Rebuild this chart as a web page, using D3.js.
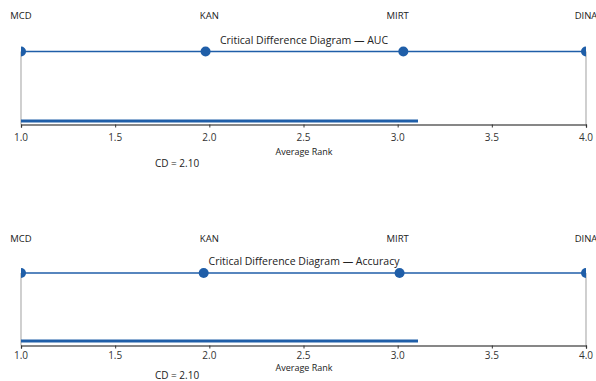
<!DOCTYPE html>
<html>
<head>
<meta charset="utf-8">
<script src="https://cdn.jsdelivr.net/npm/d3@7"></script>
<style>
  html, body { margin: 0; padding: 0; background: #fff; }
  svg { display: block; }
  text { font-family: "Open Sans", "Noto Sans", sans-serif; }
</style>
</head>
<body>
<script>
// Models in rank order and their average ranks per metric
const models = ["MCD", "KAN", "MIRT", "DINA"];
const labelSlots = [1, 2, 3, 4];
const aucRanks = [1.0, 1.98, 3.03, 4.0];
const accuracyRanks = [1.0, 1.97, 3.01, 4.0];
const criticalDifference = 2.10;
const rankTicks = [1.0, 1.5, 2.0, 2.5, 3.0, 3.5, 4.0];

const W = 596, H = 381;
const blue = "#1f5ea8";

const svg = d3.select("body").append("svg")
  .attr("width", W).attr("height", H);

const x = d3.scaleLinear().domain([1, 4]).range([21, 586]);

svg.append("defs").append("clipPath").attr("id", "plotClip")
  .append("rect").attr("x", x(1)).attr("y", 0)
  .attr("width", x(4) - x(1)).attr("height", H);

const panels = [
  { title: "Critical Difference Diagram \u2014 AUC", ranks: aucRanks,
    top: 0, labelY: 19, titleY: 44, lineY: 51.5, cdY: 121, axisY: 124.5,
    tickY: 141, xlabY: 155, cdTextY: 167 },
  { title: "Critical Difference Diagram \u2014 Accuracy", ranks: accuracyRanks,
    top: 0, labelY: 242, titleY: 265, lineY: 273, cdY: 341, axisY: 345.5,
    tickY: 359, xlabY: 371, cdTextY: 379 }
];

panels.forEach(p => {
  const g = svg.append("g");

  // side frame lines
  [1, 4].forEach(v => {
    g.append("line")
      .attr("x1", x(v)).attr("x2", x(v))
      .attr("y1", p.lineY).attr("y2", p.axisY)
      .attr("stroke", "#b0b0b0").attr("stroke-width", 1.2);
  });

  // rank axis
  const axis = d3.axisBottom(x).tickValues(rankTicks)
    .tickFormat(d3.format(".1f")).tickSize(3).tickPadding(3);
  const ag = g.append("g").attr("transform", `translate(0,${p.axisY})`).call(axis);
  ag.select(".domain").attr("stroke", "#111").attr("stroke-width", 1.2);
  ag.selectAll(".tick line").attr("stroke", "#333");
  ag.selectAll(".tick text").remove();
  g.selectAll(".ticklab").data(rankTicks).join("text")
    .attr("x", d => x(d)).attr("y", p.tickY)
    .attr("text-anchor", "middle").attr("font-size", 10)
    .attr("fill", "#333").text(d3.format(".1f"));

  const plot = g.append("g").attr("clip-path", "url(#plotClip)");

  // connecting line across ranks
  plot.append("line")
    .attr("x1", x(d3.min(p.ranks))).attr("x2", x(d3.max(p.ranks)))
    .attr("y1", p.lineY).attr("y2", p.lineY)
    .attr("stroke", blue).attr("stroke-width", 1.6);

  // rank points
  plot.selectAll("circle").data(p.ranks).join("circle")
    .attr("cx", d => x(d)).attr("cy", p.lineY).attr("r", 5)
    .attr("fill", blue);

  // critical difference bar
  plot.append("line")
    .attr("x1", x(1)).attr("x2", x(1 + criticalDifference))
    .attr("y1", p.cdY).attr("y2", p.cdY)
    .attr("stroke", blue).attr("stroke-width", 3)
    .attr("stroke-linecap", "square");

  // model labels
  g.selectAll(".model").data(models).join("text")
    .attr("x", (d, i) => x(labelSlots[i])).attr("y", p.labelY)
    .attr("text-anchor", "middle").attr("font-size", 9.5)
    .attr("fill", "#222").text(d => d);

  // title
  g.append("text").attr("x", 304).attr("y", p.titleY)
    .attr("text-anchor", "middle").attr("font-size", 10.5)
    .attr("fill", "#222").text(p.title);

  // axis label
  g.append("text").attr("x", 304).attr("y", p.xlabY)
    .attr("text-anchor", "middle").attr("font-size", 9)
    .attr("fill", "#222").text("Average Rank");

  // CD annotation
  g.append("text").attr("x", 177).attr("y", p.cdTextY)
    .attr("text-anchor", "middle").attr("font-size", 10)
    .attr("fill", "#222").text(`CD = ${criticalDifference.toFixed(2)}`);
});
</script>
</body>
</html>
